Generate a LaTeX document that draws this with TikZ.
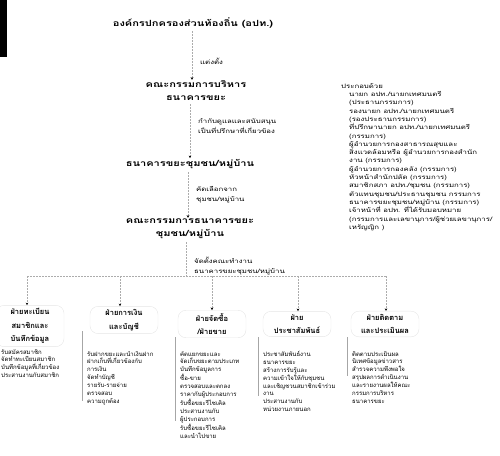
\documentclass[tikz,border=0pt]{standalone}
\usepackage{fontspec}
\newfontfamily\thai[Script=Thai]{Loma}
\newfontfamily\thaiw[Script=Thai,FakeStretch=1.3]{Loma}
\newfontfamily\thaiww[Script=Thai,FakeStretch=1.3]{Loma}
\usetikzlibrary{arrows.meta}
\begin{document}
\begin{tikzpicture}[x=1pt,y=-1pt,
  every node/.style={font=\thai, inner sep=1pt},
  head/.style={font=\thaiw\bfseries\fontsize{8.5}{13}\selectfont, align=center},
  lbl/.style={font=\thaiw\fontsize{6}{10}\selectfont, align=left, anchor=west},
  sub/.style={font=\thai\bfseries\fontsize{7.5}{13.5}\selectfont, align=center, draw=gray!20, rounded corners=8pt, inner sep=3pt, minimum width=68pt},
  desc/.style={font=\thai\fontsize{6}{7.9}\selectfont, align=left, anchor=north west, inner sep=0pt},
  side/.style={draw=gray!70, line width=0.8pt},
  conn/.style={draw=gray!65, dash pattern=on 2pt off 1pt, line width=0.6pt, shorten <=2pt, -{Stealth[length=2.6pt,width=2.6pt,black]}},
  bus/.style={draw=gray!65, dash pattern=on 2pt off 1pt, line width=0.6pt}
]
\useasboundingbox (0,0) rectangle (500,455);
\fill[black] (0,0) rectangle (7,57);

\node[head] (title) at (193,23) {องค์กรปกครองส่วนท้องถิ่น (อปท.)};
\node[head] (exec) at (196,91) {คณะกรรมการบริหาร\\ธนาคารขยะ};
\node[head] (bank) at (190,164) {ธนาคารขยะชุมชน/หมู่บ้าน};
\node[head] (comm) at (190,229) {คณะกรรมการธนาคารขยะ\\ชุมชน/หมู่บ้าน};

\coordinate (a1) at (192,0);
\coordinate (a2) at (190,0);
\coordinate (a3) at (188,0);
\coordinate (a4) at (186,0);
\draw[conn] (title.south -| a1) -- (exec.north -| a1);
\draw[conn] (exec.south -| a2) -- (bank.north -| a2);
\draw[conn] (bank.south -| a3) -- (comm.north -| a3);

\node[lbl] (l1) at (199,61) {แต่งตั้ง};
\node[lbl] (l2) at (197,126) {กำกับดูแลและสนับสนุน\\เป็นที่ปรึกษาที่เกี่ยวข้อง};
\node[lbl] (l3) at (195,195) {คัดเลือกจาก\\ชุมชน/หมู่บ้าน};
\node[lbl] (l4) at (193,266) {จัดตั้งคณะทำงาน\\ธนาคารขยะชุมชน/หมู่บ้าน};

\coordinate (bus) at (186,276);
\coordinate (bl) at (27,276);
\coordinate (br) at (386,276);
\draw[bus, shorten <=2pt] (comm.south -| a4) -- (bus);
\draw[bus] (bl) -- (br);

\node[sub] (h1) at (30,326) {ฝ่ายทะเบียน\\สมาชิกและ\\บันทึกข้อมูล};
\node[sub] (h2) at (124,320) {ฝ่ายการเงิน\\และบัญชี};
\node[sub] (h3) at (212,324) {ฝ่ายจัดซื้อ\\/ฝ่ายขาย};
\node[sub] (h4) at (297,324) {ฝ่าย\\ประชาสัมพันธ์};
\node[sub] (h5) at (385,324) {ฝ่ายติดตาม\\และประเมินผล};

\coordinate (b2) at (120,276);
\coordinate (b3) at (212,276);
\coordinate (b4) at (298,276);
\draw[conn, shorten <=0pt] (bl) -- (h1.north -| bl);
\draw[conn, shorten <=0pt] (b2) -- (h2.north -| b2);
\draw[conn, shorten <=0pt] (b3) -- (h3.north -| b3);
\draw[conn, shorten <=0pt] (b4) -- (h4.north -| b4);
\draw[conn, shorten <=0pt] (br) -- (h5.north -| br);

\node[desc] (d1) at (1,349) {รับสมัครสมาชิก\\จัดทำทะเบียนสมาชิก\\บันทึกข้อมูลที่เกี่ยวข้อง\\ประสานงานกับสมาชิก};
\node[desc] (d2) at (87,351) {รับฝากขยะและนำเงินฝาก\\ฝากเก็บที่เกี่ยวข้องกับ\\การเงิน\\จัดทำบัญชี\\รายรับ-รายจ่าย\\ตรวจสอบ\\ความถูกต้อง};
\node[desc] (d3) at (180,351) {คัดแยกขยะและ\\จัดเก็บขยะตามประเภท\\บันทึกข้อมูลการ\\ซื้อ-ขาย\\ตรวจสอบและตกลง\\ราคากับผู้ประกอบการ\\รับซื้อขยะรีไซเคิล\\ประสานงานกับ\\ผู้ประกอบการ\\รับซื้อขยะรีไซเคิล\\และนำไปขาย};
\node[desc] (d4) at (263,351) {ประชาสัมพันธ์งาน\\ธนาคารขยะ\\สร้างการรับรู้และ\\ความเข้าใจให้กับชุมชน\\และเชิญชวนสมาชิกเข้าร่วม\\งาน\\ประสานงานกับ\\หน่วยงานภายนอก};
\node[desc] (d5) at (352,351) {ติดตามประเมินผล\\นิเทศข้อมูลข่าวสาร\\สำรวจความพึงพอใจ\\สรุปผลการดำเนินงาน\\และรายงานผลให้คณะ\\กรรมการบริหาร\\ธนาคารขยะ};

\draw[side] (82,331) -- (82,401);
\draw[side] (175,337) -- (175,421);
\draw[side] (258,337) -- (258,396);
\draw[side] (347,337) -- (347,376);

\node[desc, font=\thaiww\fontsize{6}{8.3}\selectfont] (members) at (341,83) {ประกอบด้วย\\
\hspace*{8pt}นายก อปท./นายกเทศมนตรี\\
\hspace*{8pt}(ประธานกรรมการ)\\
\hspace*{8pt}รองนายก อปท./นายกเทศมนตรี\\
\hspace*{8pt}(รองประธานกรรมการ)\\
\hspace*{8pt}ที่ปรึกษานายก อปท./นายกเทศมนตรี\\
\hspace*{8pt}(กรรมการ)\\
\hspace*{8pt}ผู้อำนวยการกองสาธารณสุขและ\\
\hspace*{8pt}สิ่งแวดล้อมหรือ ผู้อำนวยการกองสำนัก\\
\hspace*{8pt}งาน (กรรมการ)\\
\hspace*{8pt}ผู้อำนวยการกองคลัง (กรรมการ)\\
\hspace*{8pt}หัวหน้าสำนักปลัด (กรรมการ)\\
\hspace*{8pt}สมาชิกสภา อปท./ชุมชน (กรรมการ)\\
\hspace*{8pt}ตัวแทนชุมชน/ประธานชุมชน กรรมการ\\
\hspace*{8pt}ธนาคารขยะชุมชน/หมู่บ้าน (กรรมการ)\\
\hspace*{8pt}เจ้าหน้าที่ อปท. ที่ได้รับมอบหมาย\\
\hspace*{8pt}(กรรมการและเลขานุการ/ผู้ช่วยเลขานุการ/\\
\hspace*{8pt}เหรัญญิก )};
\end{tikzpicture}
\end{document}
